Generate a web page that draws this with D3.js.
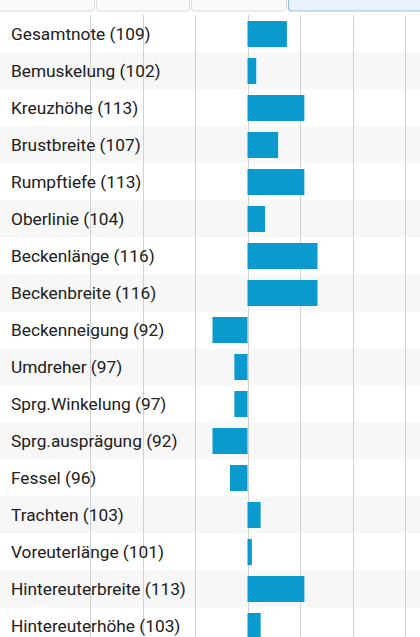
<!DOCTYPE html>
<html><head><meta charset="utf-8">
<script src="https://cdn.jsdelivr.net/npm/d3@7"></script>
<style>
html,body{margin:0;padding:0;background:#fff;overflow:hidden;}
svg{display:block;}
</style></head>
<body>
<svg id="chart" width="420" height="637"></svg>
<script>
const categories = ["Gesamtnote","Bemuskelung","Kreuzhöhe","Brustbreite","Rumpftiefe","Oberlinie","Beckenlänge","Beckenbreite","Beckenneigung","Umdreher","Sprg.Winkelung","Sprg.ausprägung","Fessel","Trachten","Voreuterlänge","Hintereuterbreite","Hintereuterhöhe"];
const values = [109,102,113,107,113,104,116,116,92,97,97,92,96,103,101,113,103];
const gridValues = [64,76,88,100,112,124,136];
const baseValue = 100;

const svg = d3.select("#chart");
const W = 420, H = 637;
const rowH = 37, topY = 15.5;

const x = d3.scaleLinear().domain([64,136]).range([90,405]);
const y = d3.scaleBand().domain(categories).range([topY, topY + rowH*categories.length]).paddingInner(0).paddingOuter(0);

// stripes
svg.append("g").selectAll("rect").data(categories).join("rect")
  .attr("x",0).attr("width",W)
  .attr("y",d=>y(d)).attr("height",y.bandwidth())
  .attr("fill",(d,i)=> i%2===1 ? "#f7f7f7" : "#ffffff");

// gridlines
svg.append("g").selectAll("line").data(gridValues).join("line")
  .attr("x1",d=>Math.round(x(d))+0.5).attr("x2",d=>Math.round(x(d))+0.5)
  .attr("y1",15).attr("y2",H)
  .attr("stroke","#d2d2d2").attr("stroke-width",1);

// bars
const barH = 26;
svg.append("g").selectAll("rect").data(values).join("rect")
  .attr("x",d=>x(Math.min(d,baseValue)))
  .attr("width",d=>Math.abs(x(d)-x(baseValue)))
  .attr("y",(d,i)=>y(categories[i]) + (y.bandwidth()-barH)/2)
  .attr("height",barH)
  .attr("fill","#0a9acd");

// labels
svg.append("g").selectAll("text").data(categories).join("text")
  .attr("x",11)
  .attr("y",(d)=>y(d)+y.bandwidth()/2)
  .attr("dy","0.36em")
  .attr("font-family","Roboto, 'Noto Sans', sans-serif")
  .attr("font-size",17.3)
  .attr("fill","#202020")
  .text((d,i)=>`${d} (${values[i]})`);

// header tabs (cut off at top)
const hdr = svg.append("g");
hdr.append("rect").attr("x",0).attr("y",0).attr("width",W).attr("height",15).attr("fill","#fff");
const tabs = [[-6,95],[96,190],[191,287]];
tabs.forEach(t=>{
  hdr.append("rect").attr("x",t[0]+0.5).attr("y",-6).attr("width",t[1]-t[0]-1).attr("height",17)
    .attr("rx",3).attr("fill","#fafafa").attr("stroke","#dcdcdc");
});
hdr.append("rect").attr("x",288.5).attr("y",-6).attr("width",140).attr("height",17)
  .attr("rx",3).attr("fill","#eaf2fb").attr("stroke","#98c0e6").attr("stroke-width",1.2);
</script>
</body></html>
